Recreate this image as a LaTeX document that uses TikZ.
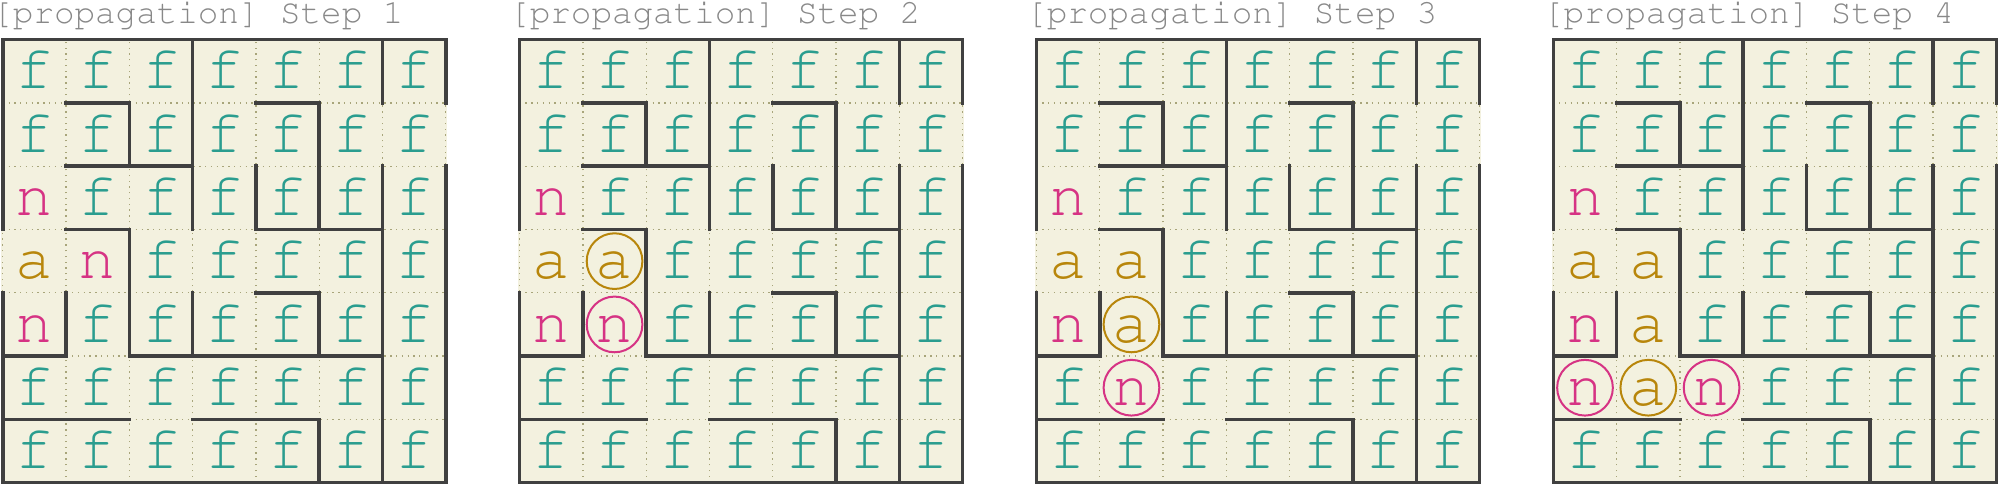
\documentclass[tikz,border=0pt]{standalone}
\usepackage{tikz}

\definecolor{freeteal}{HTML}{2A9D8F}
\definecolor{nbrpink}{HTML}{D63384}
\definecolor{actgold}{HTML}{B8860B}
\definecolor{cellbg}{HTML}{F3F1DF}
\definecolor{wallgray}{HTML}{404040}
\definecolor{dotolive}{HTML}{A8A57A}
\definecolor{titlegray}{HTML}{888888}

\newcommand\titlefont{\fontencoding{OT1}\fontfamily{pcr}\fontsize{15.4}{18}\selectfont}
\newcommand\glyphfont{\fontencoding{OT1}\fontfamily{pcr}\fontsize{28}{30}\selectfont}

\newcommand\mazetext[1]{\csname mazetxt#1\endcsname}
\def\mazetxtf{f}
\def\mazetxtn{n}
\def\mazetxta{a}
\def\mazetxtN{n}
\def\mazetxtA{a}

\tikzset{
    cell/.style={font=\glyphfont, text height=0.6cm, text depth=0.04cm, inner sep=0pt},
    cellf/.style={cell, text=freeteal},
    celln/.style={cell, text=nbrpink},
    cella/.style={cell, text=actgold},
    ring/.style={circle, line width=0.9pt, minimum size=0.88cm},
    cellN/.style={celln, ring, draw=nbrpink},
    cellA/.style={cella, ring, draw=actgold},
    opening/.style={dotted, draw=dotolive, line width=0.6pt},
    wall/.style={draw=wallgray, line width=1.6pt, line cap=rect},
    steptitle/.style={font=\titlefont, text=titlegray, inner sep=0pt, anchor=base west}
}

\newcommand\mazegrid[3]{%
    \begin{scope}[xshift=#2cm]
        \fill[cellbg] (-0.025,0.025) rectangle (7.025,-7.025);
        \draw[opening] (0,0) grid (7,-7);
        \draw[wall] (0,-3) -- (0,0) -- (7,0) -- (7,-1);
        \draw[wall] (7,-2) -- (7,-7) -- (0,-7) -- (0,-4);
        \draw[wall] (3,0) -- (3,-3);
        \draw[wall] (6,0) -- (6,-1);
        \draw[wall] (1,-1) -- (2,-1) -- (2,-2);
        \draw[wall] (1,-2) -- (3,-2);
        \draw[wall] (4,-1) -- (5,-1) -- (5,-3);
        \draw[wall] (4,-2) -- (4,-3) -- (6,-3);
        \draw[wall] (6,-2) -- (6,-7);
        \draw[wall] (1,-3) -- (2,-3) -- (2,-5) -- (6,-5);
        \draw[wall] (3,-4) -- (3,-5);
        \draw[wall] (4,-4) -- (5,-4) -- (5,-5);
        \draw[wall] (1,-4) -- (1,-5) -- (0,-5);
        \draw[wall] (0,-6) -- (2,-6);
        \draw[wall] (3,-6) -- (5,-6) -- (5,-7);
        \node[steptitle] (T#1) at (-0.17,0.253) {[propagation] Step #1};
        \foreach \row [count=\ri from 0] in {#3} {
            \foreach \k [count=\ci from 0] in \row
                \node[cell\k] (S#1r\ri c\ci) at (\ci+0.5,-\ri-0.5) {\mazetext{\k}};
        }
    \end{scope}}

\begin{document}
\begin{tikzpicture}
    \useasboundingbox (-0.043,-7.036) rectangle (31.557,0.626);

    \mazegrid{1}{0}{{f,f,f,f,f,f,f},{f,f,f,f,f,f,f},{n,f,f,f,f,f,f},{a,n,f,f,f,f,f},{n,f,f,f,f,f,f},{f,f,f,f,f,f,f},{f,f,f,f,f,f,f}}
    \mazegrid{2}{8.167}{{f,f,f,f,f,f,f},{f,f,f,f,f,f,f},{n,f,f,f,f,f,f},{a,A,f,f,f,f,f},{n,N,f,f,f,f,f},{f,f,f,f,f,f,f},{f,f,f,f,f,f,f}}
    \mazegrid{3}{16.334}{{f,f,f,f,f,f,f},{f,f,f,f,f,f,f},{n,f,f,f,f,f,f},{a,a,f,f,f,f,f},{n,A,f,f,f,f,f},{f,N,f,f,f,f,f},{f,f,f,f,f,f,f}}
    \mazegrid{4}{24.5}{{f,f,f,f,f,f,f},{f,f,f,f,f,f,f},{n,f,f,f,f,f,f},{a,a,f,f,f,f,f},{n,a,f,f,f,f,f},{N,A,N,f,f,f,f},{f,f,f,f,f,f,f}}
\end{tikzpicture}
\end{document}
